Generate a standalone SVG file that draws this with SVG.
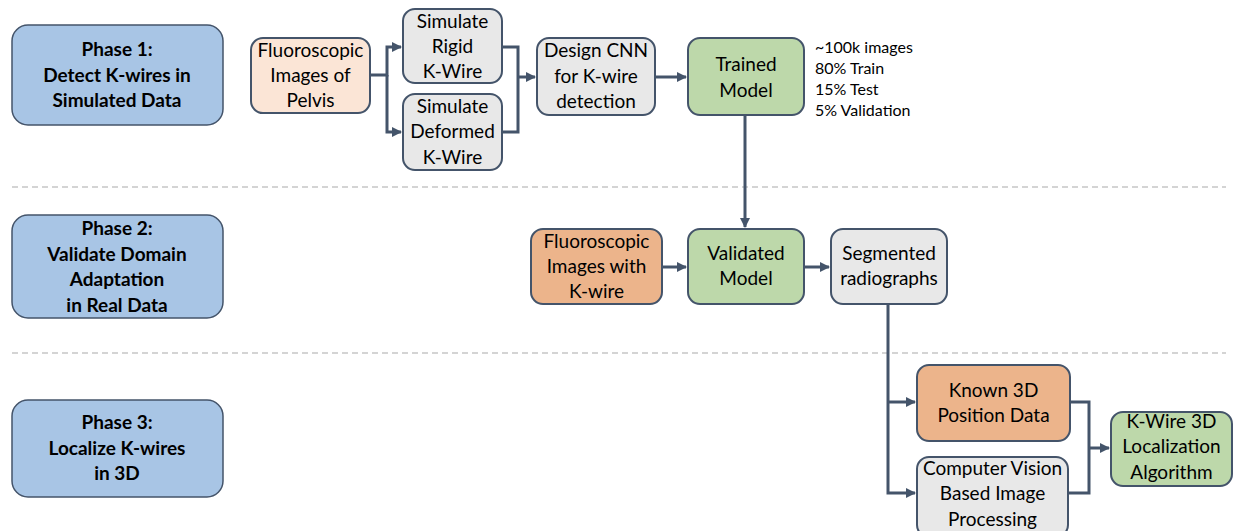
<svg xmlns="http://www.w3.org/2000/svg" width="1238" height="531" viewBox="0 0 1238 531">
<style>
.phase{fill:#a8c5e5;stroke:#44546a;stroke-width:1.5}
.n{stroke:#44546a;stroke-width:2}
.peach{fill:#fbe5d6}.orange{fill:#ecb48b}.green{fill:#bdd8aa}.gray{fill:#e8e8e8}
text{font-family:Lato,"Open Sans",sans-serif;font-size:19px;fill:#000;text-anchor:middle}
.b{font-weight:bold;font-size:19px}
.note{font-size:16px;text-anchor:start}
.c{fill:none;stroke:#44546a;stroke-width:3}
.dash{stroke:#aaaaaa;stroke-width:1.2;stroke-dasharray:6 4}
</style>
<defs>
<marker id="a" viewBox="0 0 10 10" refX="9" refY="5" markerWidth="3.4" markerHeight="3.4" orient="auto" markerUnits="strokeWidth"><path d="M0,0 L10,5 L0,10 z" fill="#44546a"/></marker>
</defs>
<rect width="1238" height="531" fill="#fff"/>
<line class="dash" x1="12" y1="187" x2="1226" y2="187"/>
<line class="dash" x1="12" y1="353" x2="1226" y2="353"/>
<g id="connectors">
<path class="c" d="M370,75 H387 V47 H401" marker-end="url(#a)"/>
<path class="c" d="M387,75 V132 H401" marker-end="url(#a)"/>
<path class="c" d="M502,47 H518 V132 H502"/>
<path class="c" d="M518,77 H535" marker-end="url(#a)"/>
<path class="c" d="M655,77 H686" marker-end="url(#a)"/>
<path class="c" d="M745,115 V227" marker-end="url(#a)"/>
<path class="c" d="M662,267 H686" marker-end="url(#a)"/>
<path class="c" d="M804,267 H829" marker-end="url(#a)"/>
<path class="c" d="M888,304 V493 H915" marker-end="url(#a)"/>
<path class="c" d="M888,402 H915" marker-end="url(#a)"/>
<path class="c" d="M1070,402 H1089 V493 H1068"/>
<path class="c" d="M1089,448 H1109" marker-end="url(#a)"/>
</g>
<g id="phase1"><rect class="phase" x="12" y="25" width="211" height="100" rx="16"/>
<text class="b" x="117" y="56">Phase 1:</text><text class="b" x="117" y="82">Detect K-wires in</text><text class="b" x="117" y="107">Simulated Data</text></g>
<g id="phase2"><rect class="phase" x="12" y="215" width="211" height="103" rx="16"/>
<text class="b" x="117" y="235">Phase 2:</text><text class="b" x="117" y="261">Validate Domain</text><text class="b" x="117" y="286">Adaptation</text><text class="b" x="117" y="312">in Real Data</text></g>
<g id="phase3"><rect class="phase" x="12" y="400" width="211" height="97" rx="16"/>
<text class="b" x="117" y="429">Phase 3:</text><text class="b" x="117" y="455">Localize K-wires</text><text class="b" x="117" y="480">in 3D</text></g>
<g id="fluoro-pelvis"><rect class="n peach" x="251" y="38" width="119" height="75" rx="12"/>
<text x="310.5" y="57">Fluoroscopic</text><text x="310.5" y="82">Images of</text><text x="310.5" y="107">Pelvis</text></g>
<g id="sim-rigid"><rect class="n gray" x="403" y="9" width="99" height="74" rx="12"/>
<text x="452.5" y="28">Simulate</text><text x="452.5" y="53">Rigid</text><text x="452.5" y="78">K-Wire</text></g>
<g id="sim-deformed"><rect class="n gray" x="403" y="94" width="99" height="76" rx="12"/>
<text x="452.5" y="113">Simulate</text><text x="452.5" y="138">Deformed</text><text x="452.5" y="164">K-Wire</text></g>
<g id="design-cnn"><rect class="n gray" x="537" y="38" width="118" height="77" rx="12"/>
<text x="596" y="57">Design CNN</text><text x="596" y="83">for K-wire</text><text x="596" y="108">detection</text></g>
<g id="trained"><rect class="n green" x="688" y="38" width="116" height="77" rx="12"/>
<text x="746" y="71">Trained</text><text x="746" y="97">Model</text></g>
<g id="notes"><text class="note" x="815" y="53">~100k images</text><text class="note" x="815" y="74">80% Train</text><text class="note" x="815" y="95">15% Test</text><text class="note" x="815" y="116">5% Validation</text></g>
<g id="fluoro-kwire"><rect class="n orange" x="531" y="229" width="131" height="75" rx="12"/>
<text x="596.5" y="248">Fluoroscopic</text><text x="596.5" y="273">Images with</text><text x="596.5" y="298">K-wire</text></g>
<g id="validated"><rect class="n green" x="688" y="229" width="116" height="75" rx="12"/>
<text x="746" y="260">Validated</text><text x="746" y="285">Model</text></g>
<g id="segmented"><rect class="n gray" x="831" y="229" width="116" height="75" rx="12"/>
<text x="889" y="260">Segmented</text><text x="889" y="285">radiographs</text></g>
<g id="known3d"><rect class="n orange" x="917" y="365" width="153" height="76" rx="12"/>
<text x="993.5" y="397">Known 3D</text><text x="993.5" y="422">Position Data</text></g>
<g id="cv"><rect class="n gray" x="917" y="457" width="151" height="80" rx="12"/>
<text x="992.5" y="475">Computer Vision</text><text x="992.5" y="500">Based Image</text><text x="992.5" y="526">Processing</text></g>
<g id="kwire3d"><rect class="n green" x="1111" y="412" width="121" height="74" rx="12"/>
<text x="1171.5" y="428">K-Wire 3D</text><text x="1171.5" y="453">Localization</text><text x="1171.5" y="479">Algorithm</text></g>
</svg>
